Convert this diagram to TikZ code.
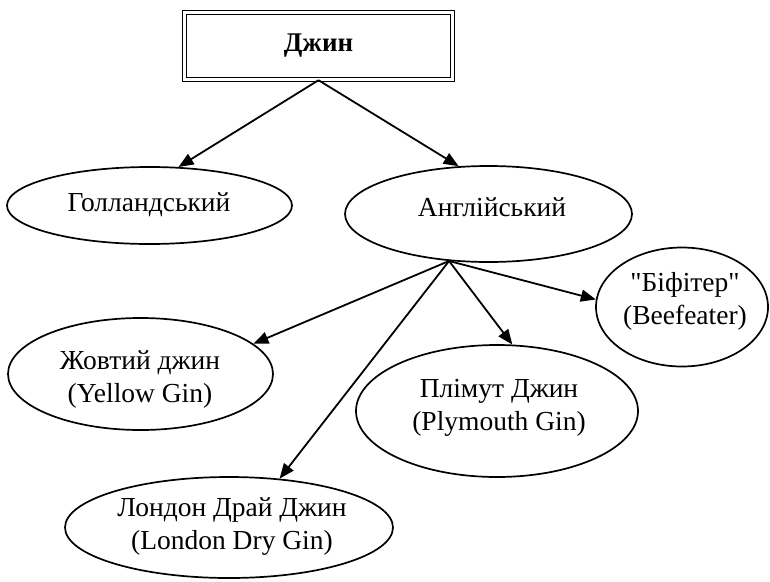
\documentclass[tikz,border=0pt]{standalone}
\usepackage{fontspec}
\newfontfamily\tms{Liberation Serif}
\usetikzlibrary{shapes.geometric,arrows.meta}
\begin{document}
\begin{tikzpicture}[x=1pt,y=-1pt,
  oval/.style={draw,ellipse,line width=1.7pt,inner sep=0pt},
  lbl/.style={align=center,font=\tms\fontsize{27.5}{33}\selectfont,inner sep=0pt},
  arr/.style={line width=1.8pt,-{Triangle[length=15pt,width=12pt]}}
]
\useasboundingbox (0,0) rectangle (770,581);
% top box
\node[draw,double,double distance=2.5pt,line width=1.4pt,minimum width=268pt,minimum height=67pt,inner sep=0pt,font=\tms\fontsize{27}{32}\selectfont\bfseries] (gin) at (318.5,46) {Джин};
% ellipses
\node[oval,minimum width=285pt,minimum height=77pt] (hol) at (149.5,205.5) {};
\node[oval,minimum width=287pt,minimum height=96pt] (ang) at (488.5,214) {};
\node[oval,minimum width=172pt,minimum height=119pt] (bee) at (682,307) {};
\node[oval,minimum width=265pt,minimum height=112pt] (yel) at (140.5,374) {};
\node[oval,minimum width=282pt,minimum height=132pt] (ply) at (497,411) {};
\node[oval,minimum width=328pt,minimum height=101pt] (lon) at (229,527.5) {};
% labels
\node[lbl] (holt) at (149,205) {Голландський};
\node[lbl] (angt) at (492,207) {Англійський};
\node[lbl] (beet) at (685,301) {"Біфітер"\\(Beefeater)};
\node[lbl] (yelt) at (140,380) {Жовтий джин\\(Yellow Gin)};
\node[lbl] (plyt) at (499,407.5) {Плімут Джин\\(Plymouth Gin)};
\node[lbl] (lont) at (232,527) {Лондон Драй Джин\\(London Dry Gin)};
% arrows
\draw[arr] (gin.south) -- (hol.53.6);
\draw[arr] (gin.south) -- (ang.122);
\draw[arr] (ang.230) -- (yel.15);
\draw[arr] (ang.230) -- (lon.44);
\draw[arr] (ang.230) -- (ply.77);
\draw[arr] (ang.230) -- (bee.175);
\end{tikzpicture}
\end{document}
